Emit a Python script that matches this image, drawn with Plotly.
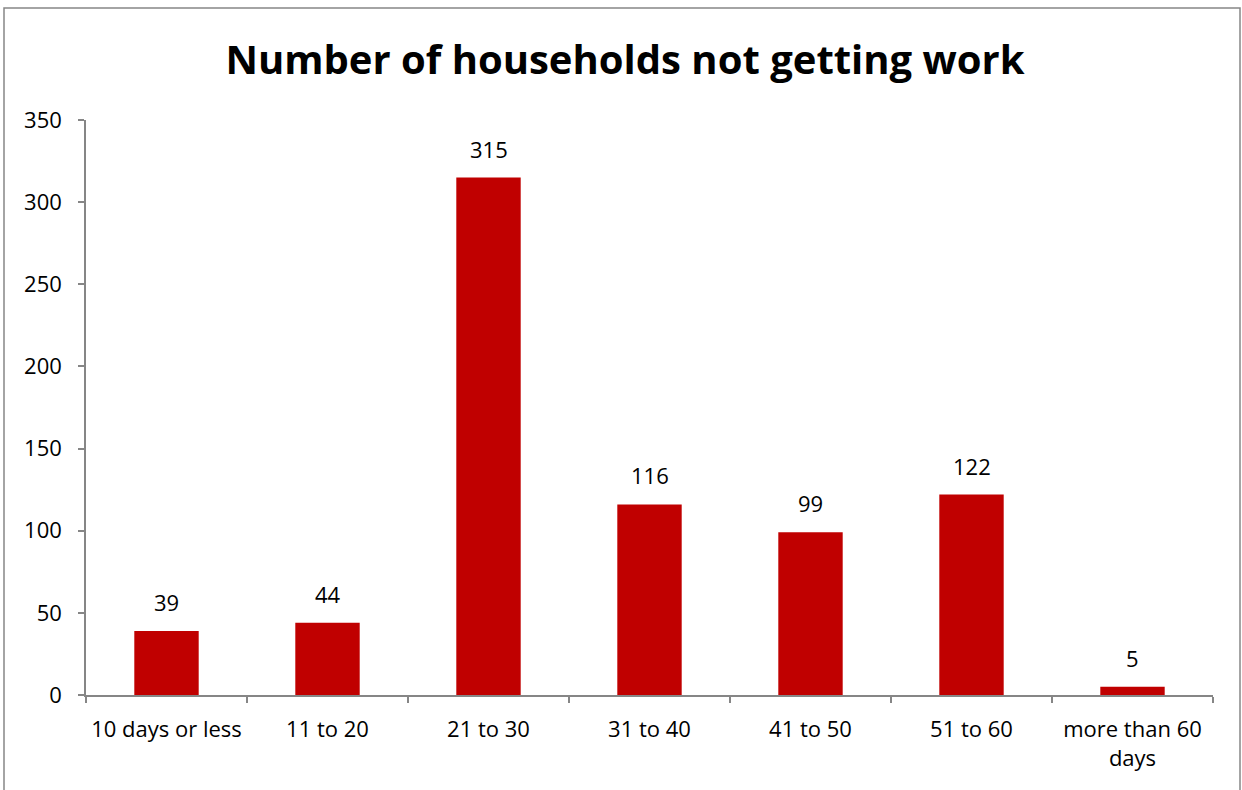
import plotly.graph_objects as go

categories = ["10 days or less", "11 to 20", "21 to 30", "31 to 40", "41 to 50", "51 to 60", "more than 60<br>days"]
values = [39, 44, 315, 116, 99, 122, 5]
y_ticks = [0, 50, 100, 150, 200, 250, 300, 350]

W, H = 1242, 790
L, R, T, B = 86, 29, 120, 95
pw, ph = W - L - R, H - T - B

def px_x(p):
    return (p - L) / pw

def px_y(p):
    return (H - B - p) / ph

FONT = "Open Sans"
FS = 22
fig = go.Figure(go.Bar(
    x=categories, y=values, width=0.4,
    marker=dict(color="#C00000", line=dict(width=0)),
    hoverinfo="x+y",
))

for c, v in zip(categories, values):
    fig.add_annotation(x=c, y=v, text=str(v), showarrow=False,
                       yanchor="bottom", yshift=12,
                       font=dict(family=FONT, size=FS, color="#000000"))

fig.update_layout(
    width=W, height=H,
    margin=dict(l=L, r=R, t=T, b=B),
    paper_bgcolor="white", plot_bgcolor="white",
    showlegend=False,
    font=dict(family=FONT, size=FS, color="#000000"),
    title=dict(text="<b>Number of households not getting work</b>",
               font=dict(family=FONT, size=40, color="#000000"),
               x=625 / W, xanchor="center", xref="container",
               y=1 - 60 / H, yanchor="middle"),
)
fig.update_yaxes(range=[0, 350], tickvals=y_ticks, showgrid=False, zeroline=False,
                 showline=True, linecolor="#868686", linewidth=1.5,
                 ticks="outside", ticklen=6, tickcolor="#868686", tickwidth=1.5,
                 ticklabelstandoff=12, tickfont=dict(family=FONT, size=FS))
fig.update_xaxes(showgrid=False, showline=True, linecolor="#868686", linewidth=1.5,
                 ticks="outside", tickson="boundaries", ticklen=6,
                 tickcolor="#868686", tickwidth=1.5, ticklabelstandoff=14,
                 tickfont=dict(family=FONT, size=FS))

fig.add_shape(type="rect", xref="paper", yref="paper",
              x0=px_x(4), x1=px_x(1240), y0=px_y(800), y1=px_y(8),
              line=dict(color="#868686", width=1.5), fillcolor="rgba(0,0,0,0)", layer="below")

fig.write_html("out.html", config={"displayModeBar": False},
               post_script="document.body.style.margin='0';document.body.style.overflow='hidden';")
